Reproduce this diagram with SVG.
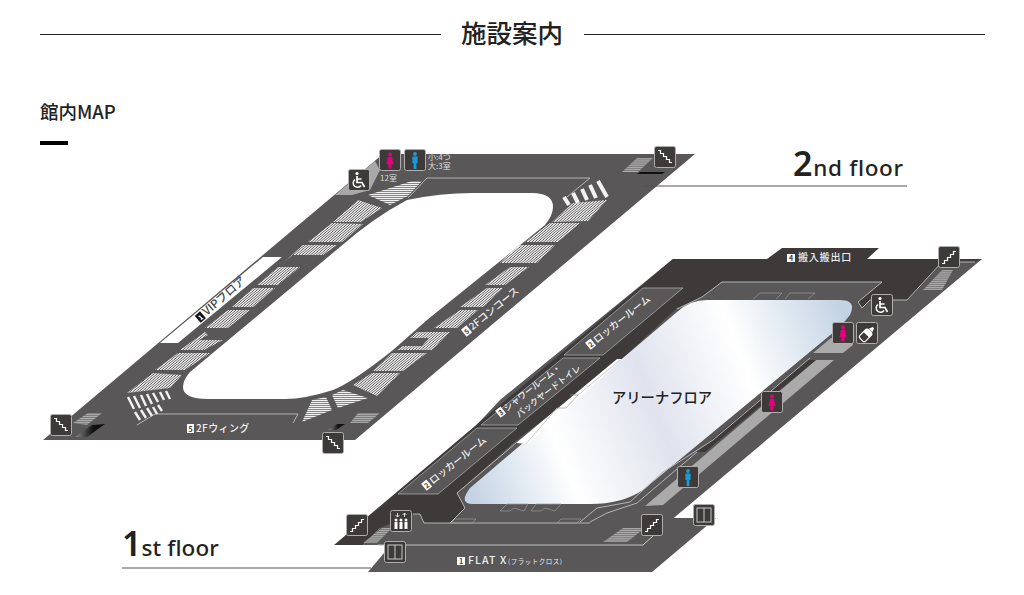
<svg xmlns="http://www.w3.org/2000/svg" width="1024" height="595" viewBox="0 0 1024 595">
<style>
text{font-family:"Noto Sans CJK JP","Noto Sans",sans-serif}
.l{fill:#595757}.d{fill:#3e3a39}
.s{fill:url(#st)}.h{fill:url(#sh)}.g{fill:url(#sg)}
.ln{fill:none;stroke:#b5b5b5;stroke-width:1}
.thin{fill:none;stroke:#9a9a9a;stroke-width:.7}
.tl{fill:#eee;font-size:10px;font-weight:500}
.bd{fill:#fff}
.bn{fill:#3e3a39;font-size:7px;font-weight:700;text-anchor:middle}
.box{fill:#3e3a39;stroke:#b0aeae;stroke-width:1}
.w{fill:none;stroke:#fff;stroke-width:1.2}
.rule{stroke:#222;stroke-width:1}
.floor{fill:#222;font-family:"Noto Sans",sans-serif;font-weight:500}
</style>
<defs>
<pattern id="st" patternUnits="userSpaceOnUse" width="2.9" height="10" patternTransform="skewX(-50)"><rect width="1.8" height="10" fill="#f2f2f2"/></pattern>
<pattern id="sh" patternUnits="userSpaceOnUse" width="10" height="2"><rect width="10" height="1.3" fill="#f2f2f2"/></pattern>
<pattern id="sg" patternUnits="userSpaceOnUse" width="10" height="1.900"><rect width="10" height="1.300" fill="#b0b0b0"/></pattern>
<linearGradient id="arena" gradientUnits="userSpaceOnUse" x1="465" y1="480" x2="850" y2="330">
<stop offset="0" stop-color="#c3d3e4"/><stop offset=".24" stop-color="#fff"/><stop offset=".49" stop-color="#e0e3ee"/><stop offset=".73" stop-color="#fff"/><stop offset="1" stop-color="#c3d3e4"/>
</linearGradient>
<linearGradient id="blk" x1="0" y1="0" x2="1" y2="0"><stop offset="0" stop-color="#8a8a8a"/><stop offset=".6" stop-color="#111"/><stop offset="1" stop-color="#111"/></linearGradient>
<g id="box"><rect class="box" x=".5" y=".5" width="21" height="21" rx="2"/></g>
<g id="stD"><use href="#box"/><path class="w" d="M4 4.500h2.500v3h3v3h3v3h3v3h2.500"/></g>
<g id="stU"><use href="#box"/><path class="w" d="M4 17.500h2.500v-3h3v-3h3v-3h3v-3h2.500"/></g>
<g id="fem"><use href="#box"/><circle cx="11" cy="5.600" r="2" fill="#e6007e"/><path d="M9 8h4l1.500 7h-2v4.500h-3V15h-2z" fill="#e6007e"/></g>
<g id="mal"><use href="#box"/><circle cx="11" cy="5" r="1.900" fill="#1d9ad6"/><path d="M8.400 7.500h5.200v6.500h-1.200v6h-2.800v-6H8.400z" fill="#1d9ad6"/></g>
<g id="whl"><use href="#box"/><circle cx="9" cy="4.500" r="1.600" fill="#fff"/><path d="M9 7v6.500h5l2.500 4.500M9 10h4.500" fill="none" stroke="#fff" stroke-width="1.700"/><path d="M7 10.500a4.300 4.300 0 1 0 6 6" fill="none" stroke="#fff" stroke-width="1.500"/></g>
<g id="door"><use href="#box"/><rect x="4" y="4" width="14" height="14" fill="none" stroke="#c9c9c9" stroke-width="1"/><path d="M11 4v14" stroke="#c9c9c9" stroke-width="1"/></g>
</defs>
<rect width="1024" height="595" fill="#fff"/>

<g id="header">
<line class="rule" x1="40" y1="34.500" x2="441" y2="34.500"/>
<line class="rule" x1="584" y1="34.500" x2="985" y2="34.500"/>
<text x="512" y="43" font-size="25.500" font-weight="500" text-anchor="middle" fill="#222">施設案内</text>
<text x="40" y="119" font-size="18.500" font-weight="500" fill="#222">館内MAP</text>
<rect x="40" y="141" width="28" height="4" fill="#000"/>
</g>

<g id="floor-2">
<path class="l" fill-rule="evenodd" d="M383 154H695L355 440H43ZM473 193H532Q553 193 553 207Q553 215 545 225L427 320L393 350Q353 382 333 390Q305 399 285 399H208Q183 399 183 387Q183 380 190 372L340 247Q373 218 407 200Q440 193 473 193Z"/>
<polygon points="335,195 375,161 380,170 370,190 352,195" fill="#a8a8a8"/>
<polygon class="bd" points="263,257 282,257 178,343 160,343"/>
<polygon class="h" points="368,195 412,181 422,181 408,196 390,205"/>
<path class="ln" d="M408 198L427 178H590L567 197"/>
<path class="ln" d="M137 425L155 414H298L293 423"/>
<g id="seats-left">
<polygon class="s" points="333,222 358,200 382,208 361,222"/>
<polygon class="s" points="308,242 332,223 363,224 342,242"/>
<polygon class="s" points="283,263 303,245 337,245 323,255 293,255"/>
<polygon class="s" points="257,285 278,267 300,267 278,285"/>
<polygon class="s" points="232,307 253,288 275,288 253,307"/>
<polygon class="s" points="205,328 228,310 250,310 228,328"/>
<polygon class="s" points="180,350 205,332 208,335 199,340 223,340 204,350"/>
<polygon class="s" points="155,370 178,353 210,353 185,370"/>
<polygon class="s" points="127,393 153,373 182,375 170,388"/>
<path d="M128 397L134 409M134 396L140 408M141 395L146 406M147 394L152 404M153 393L158 402M160 392L164 400M166 391L170 399M135 412L140 420M141 410L146 418M147 408L152 416M153 407L157 414M158 405L162 411" stroke="#f2f2f2" stroke-width="2.400" fill="none"/>
</g>
<g id="seats-bottom">
<polygon class="h" points="302,422 312,400 326,397 332,410"/>
<polygon class="h" points="332,395 343,390 368,398 338,408"/>
<polygon class="s" points="353,385 372,373 400,373 377,396"/>
<polygon class="s" points="373,371 392,353 427,353 403,371"/>
<polygon class="s" points="410,338 417,332 450,332 432,350 397,350 403,346 422,346 429,338"/>
</g>
<g id="seats-right">
<path d="M564 197L569 205M573 193L578 203M582 189L587 200M590 185L596 198M598 181L607 197" stroke="#f2f2f2" stroke-width="4" fill="none"/>
<polygon class="s" points="552,222 573,203 607,200 588,221"/>
<polygon class="s" points="525,242 550,223 580,223 558,242"/>
<polygon class="s" points="500,263 518,245 555,245 537,263"/>
<polygon class="s" points="485,285 510,267 529,267 505,285"/>
<polygon class="s" points="460,307 487,288 503,288 483,307"/>
<polygon class="s" points="434,328 460,310 478,310 457,328"/>
</g>
<g id="stairs-2f">
<polygon class="g" points="73,423 88,413 102,413 87,425"/>
<polygon fill="url(#blk)" points="75,437 92,425 105,424 87,437"/>
<polygon class="g" points="350,423 358,413 380,413 368,423"/>
<polygon fill="url(#blk)" points="328,430 337,424 345,424 336,430"/>
<polygon class="g" points="622,172 637,158 653,158 638,172"/>
<polygon fill="#111" points="637,174 640,172 665,172 662,174"/>
</g>
<g id="labels-2f">
<g transform="translate(200 322) rotate(-41)"><rect fill="#111" x="0" y="-8" width="7" height="9"/><text fill="#fff" font-size="7" font-weight="700" text-anchor="middle" x="3.500" y="-.5">1</text><text x="9" y="0" fill="#444" font-size="11.500" font-weight="500">VIPフロア</text></g>
<g transform="translate(466 336) rotate(-39.500)"><rect class="bd" x="0" y="-8" width="7" height="9"/><text class="bn" x="3.500" y="-.5">5</text><text class="tl" x="8.500" y="0">2Fコンコース</text></g>
<g transform="translate(187 432)"><rect class="bd" x="0" y="-8" width="7" height="9"/><text class="bn" x="3.500" y="-.5">5</text><text class="tl" x="9" y="0" letter-spacing=".4">2Fウィング</text></g>
<text x="380" y="181" font-size="8" fill="#ddd">12室</text>
<text x="428" y="160" font-size="8" fill="#ddd">小:4つ</text>
<text x="428" y="169" font-size="8" fill="#ddd">大:3室</text>
</g>
</g>
<g id="icons-2f">
<use id="stair-2f-tr" href="#stD" x="654" y="146"/>
<use id="stair-2f-bl" href="#stD" x="50" y="414"/>
<use id="stair-2f-br" href="#stD" x="322" y="432"/>
<use id="wc-2f" href="#whl" x="348" y="169"/>
<use id="f-2f" href="#fem" x="379" y="149"/>
<use id="m-2f" href="#mal" x="404" y="149"/>
</g>

<g id="floor-1">
<polygon class="l" points="982,259 663,527 643,545 378,545 363,545 380,528 500,400 673,259"/>
<polygon class="l" points="368,572 652,572 716,518 672,518 643,545 378,545 395,540"/>
<path d="M378 545H643L663 527" fill="none" stroke="#c4c4c4" stroke-width="1"/>
<polygon class="d" points="334,545 673,259 767,259 782,248 879,248 867,259 982,259 975,262 942,262 907,300 870,300 862,308 858,302 882,282 722,282 702,297 677,308 623,358 513,443 457,493 465,508 450,523 424,523 420,514 413,514 380,528 363,545"/>
<path class="ln" d="M975 262H942L907 300H870L862 308L858 302L882 282H722L702 297L677 309"/>
<path class="ln" d="M457 493L465 508L450 523H424L420 514H413"/>
<path class="ln" d="M450 523H590"/>
<path class="ln" d="M457 493L516 443"/>
<path id="arena-floor" fill="url(#arena)" d="M473 504H590Q622 504 643 490L840 327L850 315Q857 300 840 300H707Q690 300 677 312L470 488Q458 504 473 504Z"/>
<polygon class="bd" points="516,443 528,444 622,359 617,359"/>
<path d="M526 444L557 408M578 395L620 360" stroke="#bbb" fill="none" stroke-width=".8"/>
<path class="thin" d="M557 408H566L578 395H570"/>
<text x="612" y="403" font-size="14.300" font-weight="500" fill="#222">アリーナフロア</text>
<g id="rooms">
<polygon class="l" points="398,494 477,428 517,428 438,494" stroke="#aaa" stroke-width=".8"/>
<polygon class="l" points="481,425 563,358 600,358 518,425" stroke="#aaa" stroke-width=".8"/>
<polygon class="l" points="564,355 643,288 683,288 603,355" stroke="#aaa" stroke-width=".8"/>
</g>
<g id="corridor">
<polygon fill="#aaa" points="813,353 831,338 853,338 853,345 843,353"/>
<polygon fill="#aaa" points="816,360 834,360 663,505 645,506"/>
<polygon fill="#3e3a39" points="807,360 816,360 705,452 697,452"/>
<path class="ln" d="M580 522L597 508L630 502L663 472L713 440L810 358"/>
<path class="ln" d="M590 522L607 513L637 503L697 452"/>
<polygon class="g" points="923,290 942,270 953,270 942,290"/>
<polygon class="g" points="603,542 623,528 645,528 627,542"/>
<polygon class="g" points="363,543 382,528 392,528 377,543"/>
<path class="thin" d="M500 511L507 504H528L524 511L514 508L510 511Z"/>
<path class="thin" d="M531 511L536 504H561L555 511L545 508L541 511Z"/>
<path class="thin" d="M753 299L760 293L782 293L776 299"/>
<path class="thin" d="M785 299L790 293L815 293L808 299"/>
<path class="thin" d="M451 523L455 519H476L472 523Z"/>
<path class="thin" d="M557 523L561 519H581L577 523Z"/>
</g>
<g id="labels-1f">
<g transform="translate(426 490) rotate(-38.500)"><rect class="bd" x="0" y="-8" width="7" height="9"/><text class="bn" x="3.500" y="-.5">2</text><text class="tl" x="8.500" y="0">ロッカールーム</text></g>
<g transform="translate(590 349) rotate(-38.500)"><rect class="bd" x="0" y="-8" width="7" height="9"/><text class="bn" x="3.500" y="-.5">2</text><text class="tl" x="8.500" y="0">ロッカールーム</text></g>
<g transform="translate(500 417) rotate(-38)"><rect class="bd" x="0" y="-8" width="7" height="9"/><text class="bn" x="3.500" y="-.5">3</text><text class="tl" style="font-size:8.800px" x="8.500" y="0">シャワールーム・</text></g>
<text class="tl" style="font-size:8.800px" transform="translate(519 418) rotate(-38)">バックヤードトイレ</text>
<g transform="translate(787 261)"><rect class="bd" x="0" y="-7" width="8" height="8"/><text class="bn" x="4" y="0">4</text><text x="11" y="0" font-size="10" font-weight="500" fill="#eee" letter-spacing=".8">搬入搬出口</text></g>
<g transform="translate(457 564)"><rect class="bd" x="0" y="-7" width="8" height="8"/><text class="bn" x="4" y="0">1</text><text x="11" y="0" font-size="10.500" font-weight="500" fill="#eee" letter-spacing="1.100">FLAT X</text><text x="51" y="-.5" font-size="6.500" fill="#eee" letter-spacing=".5">(フラットクロス)</text></g>
</g>
</g>
<g id="icons-1f">
<use id="stair-1f-a" href="#stU" x="346" y="514"/>
<use id="stair-1f-b" href="#stU" x="641" y="514"/>
<use id="stair-1f-c" href="#stU" x="938" y="246"/>
<use id="door-1f-a" href="#door" x="384" y="541"/>
<use id="door-1f-b" href="#door" x="693" y="504"/>
<use id="m-1f" href="#mal" x="677" y="466"/>
<use id="f-1f-a" href="#fem" x="761" y="391"/>
<use id="f-1f-b" href="#fem" x="832" y="322"/>
<use id="wc-1f" href="#whl" x="871" y="294"/>
<g id="baby" transform="translate(856 322)"><use href="#box"/><g transform="translate(11 12) rotate(45)"><rect x="-4" y="-4" width="8" height="12" rx="2" fill="none" stroke="#fff" stroke-width="1.200"/><path d="M-4 1V-3Q-4 -4 -3 -4H3Q4 -4 4 -3V1Z" fill="#fff"/><path d="M-2.500 -5L-1 -9H1L2.500 -5Z" fill="#fff"/></g></g>
<g id="elevator" transform="translate(390 510)"><use href="#box"/><g fill="#fff"><circle cx="6" cy="10" r="1.500"/><circle cx="11" cy="10" r="1.500"/><circle cx="16" cy="10" r="1.500"/><rect x="4.500" y="12" width="3" height="7"/><rect x="9.500" y="12" width="3" height="7"/><rect x="14.500" y="12" width="3" height="7"/></g><path d="M7.500 3v4M5.500 5l2 2 2-2M14.500 7V3M12.500 5l2-2 2 2" fill="none" stroke="#fff" stroke-width=".8"/></g>
</g>

<g id="floor-titles">
<text class="floor" x="793" y="176" font-size="22.500" letter-spacing=".7"><tspan font-size="34" font-weight="600">2</tspan>nd floor</text>
<line x1="643" y1="186" x2="907" y2="186" stroke="#555" stroke-width="1.200"/>
<text class="floor" x="122" y="556" font-size="22.500" letter-spacing=".1"><tspan font-size="34" font-weight="600">1</tspan>st floor</text>
<line x1="122" y1="568" x2="371" y2="568" stroke="#555" stroke-width="1.200"/>
</g>
</svg>
